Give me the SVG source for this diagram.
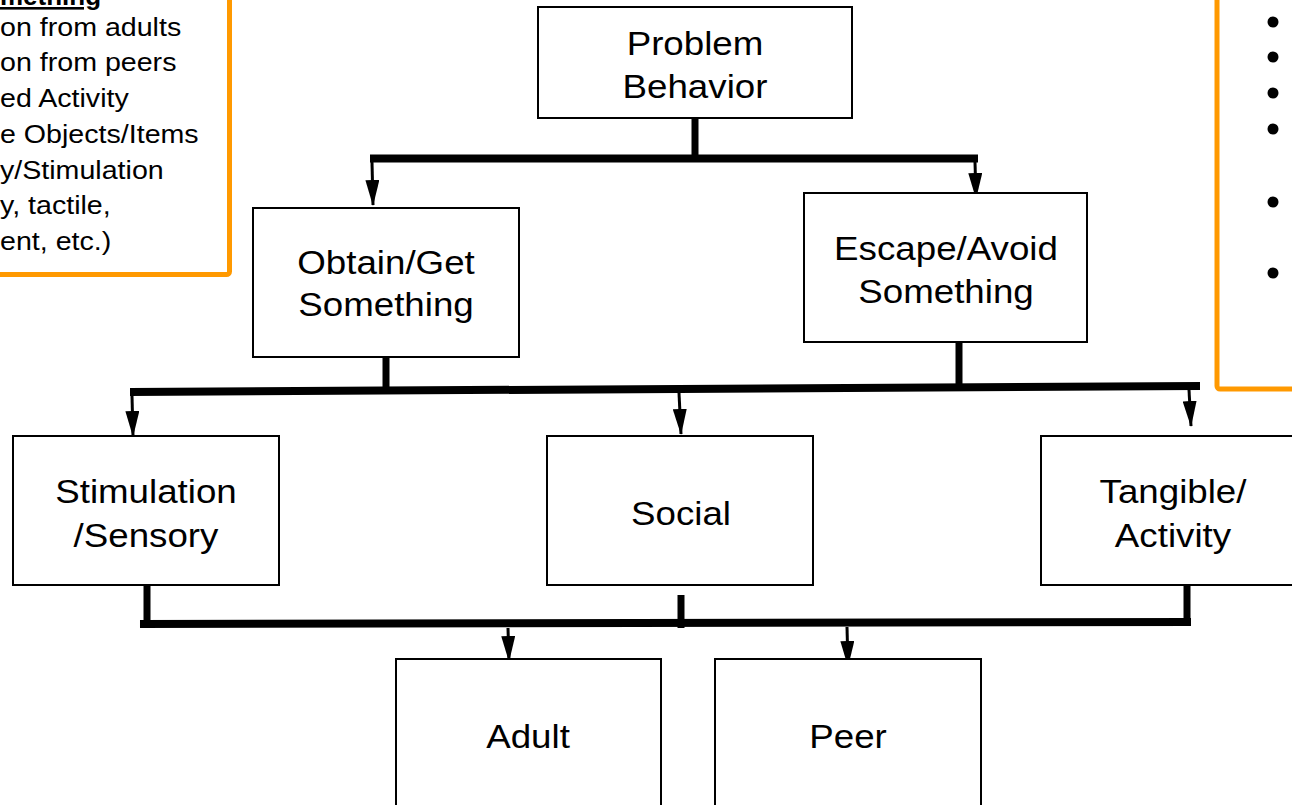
<svg xmlns="http://www.w3.org/2000/svg" width="1292" height="805" viewBox="0 0 1292 805">
<style>
.box{fill:#fff;stroke:#000;stroke-width:2}
.n{font-family:"Liberation Sans",Arial,sans-serif;font-size:34px;fill:#000;text-anchor:middle}
.p{font-family:"Liberation Sans",Arial,sans-serif;font-size:26px;fill:#000}
.panel{fill:#fff;stroke:#FF9900;stroke-width:5}
.stem{stroke:#000;stroke-width:7;fill:none}
.bar{stroke:#000;stroke-width:8;fill:none}
.arr{stroke:#000;stroke-width:3;fill:none;marker-end:url(#ah)}
</style>
<defs>
<marker id="ah" markerUnits="userSpaceOnUse" markerWidth="26" markerHeight="14" refX="25" refY="7" orient="auto" viewBox="0 0 26 14">
<path d="M0,0 L26,7 L0,14 z" fill="#000"/>
</marker>
</defs>
<rect width="1292" height="805" fill="#fff"/>
<g id="panel-left">
<rect class="panel" x="-20" y="-20" width="249.5" height="294.5" rx="3"/>
<text class="p" font-weight="bold" text-decoration="underline" transform="translate(0,5) scale(1.0,1)" x="0" y="0">mething</text>
<g transform="scale(1.1,1)">
<text class="p" x="0" y="36">on from adults</text>
<text class="p" x="0" y="71.5">on from peers</text>
<text class="p" x="0" y="107">ed Activity</text>
<text class="p" x="0" y="143">e Objects/Items</text>
<text class="p" x="0" y="179">y/Stimulation</text>
<text class="p" x="0" y="214">y, tactile,</text>
<text class="p" x="0" y="250">ent, etc.)</text>
</g>
</g>
<g id="panel-right">
<rect class="panel" x="1217" y="-20" width="100" height="409" rx="3"/>
<circle cx="1273" cy="22" r="5.5"/>
<circle cx="1273" cy="57" r="5.5"/>
<circle cx="1273" cy="93" r="5.5"/>
<circle cx="1273" cy="129" r="5.5"/>
<circle cx="1273" cy="202" r="5.5"/>
<circle cx="1273" cy="273" r="5.5"/>
</g>
<g id="connectors">
<line class="stem" x1="695" y1="118" x2="695" y2="155"/>
<line class="bar" x1="370" y1="158.5" x2="978" y2="158.5" stroke-width="7"/>
<line class="arr" x1="372" y1="162" x2="373" y2="205"/>
<line class="arr" x1="975" y1="162" x2="976" y2="198"/>
<line class="stem" stroke-width="6" x1="386" y1="357" x2="386" y2="390"/>
<line class="stem" stroke-width="6" x1="959" y1="342" x2="959" y2="386"/>
<line class="bar" x1="130" y1="392" x2="1200" y2="386"/>
<line class="arr" x1="132" y1="396" x2="133" y2="436"/>
<line class="arr" x1="679" y1="393" x2="681" y2="434"/>
<line class="arr" x1="1189" y1="390" x2="1191" y2="426"/>
<line class="stem" stroke-width="6" x1="147" y1="585" x2="147" y2="622"/>
<line class="stem" stroke-width="5" x1="681" y1="595" x2="681" y2="628"/>
<line class="stem" stroke-width="6" x1="1187" y1="585" x2="1187" y2="620"/>
<line class="bar" x1="140" y1="624" x2="1191" y2="622"/>
<line class="arr" x1="508" y1="628" x2="509" y2="661"/>
<line class="arr" x1="847" y1="627" x2="848" y2="666"/>
</g>
<g id="node-problem">
<rect class="box" x="538" y="7" width="314" height="111"/>
<text class="n" transform="translate(695,0) scale(1.08,1)"><tspan x="0" y="55">Problem</tspan><tspan x="0" y="98">Behavior</tspan></text>
</g>
<g id="node-obtain">
<rect class="box" x="253" y="208" width="266" height="149"/>
<text class="n" transform="translate(386,0) scale(1.08,1)"><tspan x="0" y="274">Obtain/Get</tspan><tspan x="0" y="316">Something</tspan></text>
</g>
<g id="node-escape">
<rect class="box" x="804" y="193" width="283" height="149"/>
<text class="n" transform="translate(946,0) scale(1.08,1)"><tspan x="0" y="260">Escape/Avoid</tspan><tspan x="0" y="303">Something</tspan></text>
</g>
<g id="node-stimulation">
<rect class="box" x="13" y="436" width="266" height="149"/>
<text class="n" transform="translate(146,0) scale(1.08,1)"><tspan x="0" y="503">Stimulation</tspan><tspan x="0" y="547">/Sensory</tspan></text>
</g>
<g id="node-social">
<rect class="box" x="547" y="436" width="266" height="149"/>
<text class="n" transform="translate(681,0) scale(1.08,1)"><tspan x="0" y="525">Social</tspan></text>
</g>
<g id="node-tangible">
<rect class="box" x="1041" y="436" width="268" height="149"/>
<text class="n" transform="translate(1173,0) scale(1.08,1)"><tspan x="0" y="503">Tangible/</tspan><tspan x="0" y="547">Activity</tspan></text>
</g>
<g id="node-adult">
<rect class="box" x="396" y="659" width="265" height="170"/>
<text class="n" transform="translate(528,0) scale(1.08,1)"><tspan x="0" y="748">Adult</tspan></text>
</g>
<g id="node-peer">
<rect class="box" x="715" y="659" width="266" height="170"/>
<text class="n" transform="translate(848,0) scale(1.08,1)"><tspan x="0" y="748">Peer</tspan></text>
</g>
</svg>
